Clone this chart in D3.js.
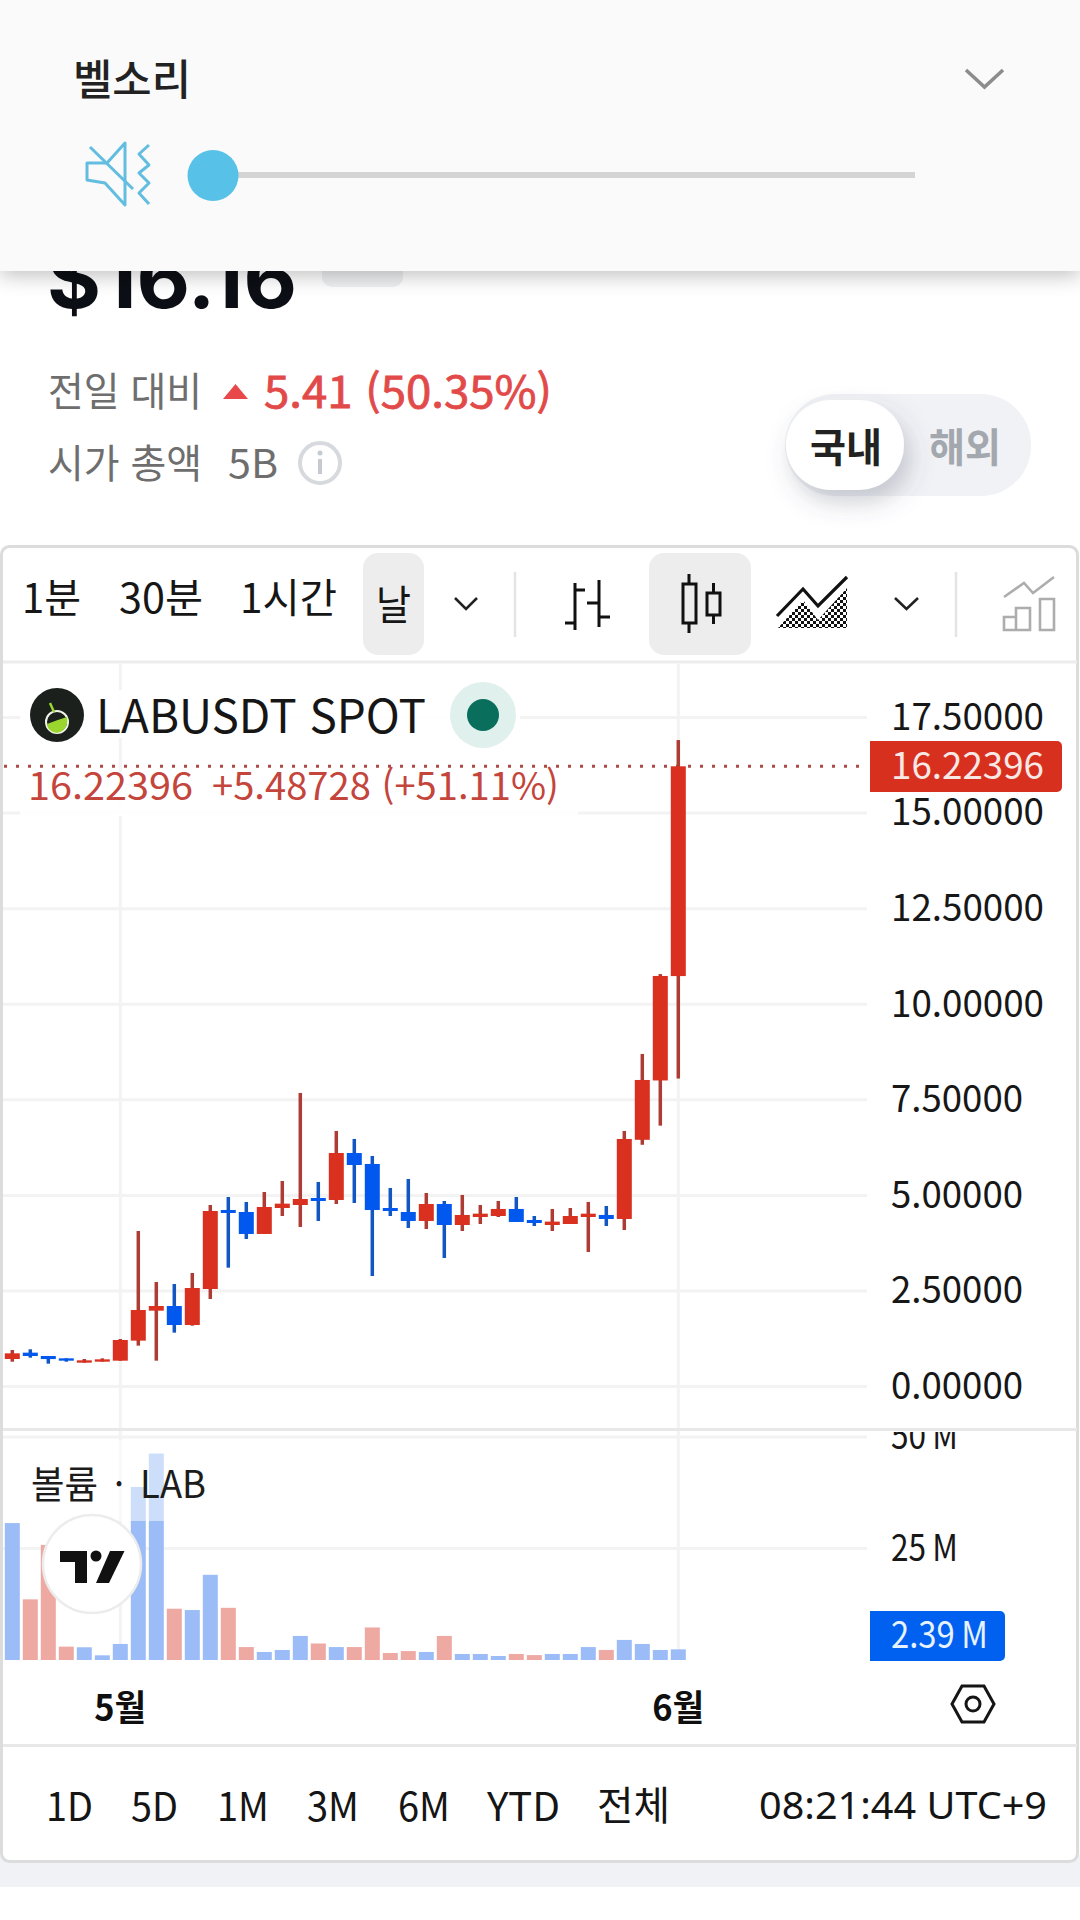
<!DOCTYPE html>
<html lang="ko">
<head>
<meta charset="utf-8">
<style>
  html, body { margin: 0; padding: 0; background: #fff; }
  svg { display: block; }
  text { font-family: "Noto Sans CJK KR", "Noto Sans", sans-serif; }
</style>
<script src="https://cdn.jsdelivr.net/npm/d3@7/dist/d3.min.js"></script>
</head>
<body>
<svg id="chart" width="1080" height="1920" viewBox="0 0 1080 1920"></svg>
<script>
// Daily LABUSDT candles: open, high, low, close
const opens  = [0.722,0.888,0.800,0.739,0.626,0.652,0.678,1.202,1.986,2.108,1.611,2.553,4.619,4.567,3.992,4.671,4.750,4.933,4.881,6.110,5.823,4.671,4.567,4.332,4.776,4.227,4.436,4.462,4.646,4.358,4.227,4.253,4.436,4.489,4.384,6.455,8.007,10.737];
const highs  = [0.957,0.975,0.800,0.739,0.722,0.739,1.245,4.070,2.735,2.684,2.971,4.750,4.959,4.829,5.090,5.378,7.680,5.352,6.686,6.477,6.032,5.195,5.430,5.064,4.855,5.012,4.750,4.855,4.959,4.462,4.646,4.671,4.829,4.724,6.686,8.700,10.790,16.910];
const lows   = [0.652,0.757,0.600,0.652,0.626,0.652,0.678,1.071,0.678,1.411,1.594,2.291,3.111,3.861,3.992,4.462,4.175,4.332,4.776,4.802,2.893,4.462,4.149,4.122,3.364,4.070,4.253,4.436,4.306,4.201,4.070,4.253,3.521,4.201,4.096,6.325,6.825,8.057];
const closes = [0.870,0.800,0.720,0.678,0.687,0.713,1.219,2.004,2.108,1.611,2.579,4.593,4.541,3.992,4.698,4.785,4.907,4.855,6.110,5.796,4.619,4.593,4.332,4.776,4.227,4.489,4.523,4.646,4.306,4.279,4.315,4.462,4.523,4.384,6.477,8.020,10.740,16.22396];

// Traded volume per day, millions of LAB, with the colour side of each bar
const volumes = [30.7,13.6,25.8,3.0,2.85,1.05,3.6,38.8,46.3,11.5,11.2,19.1,11.7,2.9,1.8,2.25,5.4,3.7,2.9,2.9,7.3,1.57,2.0,1.8,5.4,1.35,1.35,0.9,1.35,1.1,1.35,1.35,2.9,2.25,4.5,3.6,2.25,2.39];
const volumeSides = ["d","u","u","u","d","d","d","d","d","u","d","d","u","u","d","d","d","u","d","u","u","u","u","d","u","d","d","d","u","u","d","d","d","u","d","d","d","d"];

const priceTicks = [0,2.5,5,7.5,10,12.5,15,17.5];
const volumeTicks = [25,50];
const monthLabels = [{ index: 6, label: "5월" }, { index: 37, label: "6월" }];
const intervalLabels = ["1분","30분","1시간","날"];
const rangeLabels = ["1D","5D","1M","3M","6M","YTD","전체"];

const lastPrice = 16.22396;
const lastChange = 5.48728;
const lastVolume = 2.39;

const C = {
  up: "#d9301f", upWick: "#ad3c34", down: "#0058ee", downWick: "#1256c0",
  volUp: "#eea9a3", volDown: "#9bbcf6", grid: "#f3f3f3", rule: "#e6e6e6", ink: "#151515"
};

const svg = d3.select("#chart");
const defs = svg.append("defs");

// Places a label so that it spans exactly from x0 to x1
function label(parent, str, x0, x1, baseline, size, fill, weight) {
  return parent.append("text")
    .attr("x", x0).attr("y", baseline)
    .attr("font-size", size).attr("fill", fill || C.ink)
    .attr("font-weight", weight || 400)
    .attr("textLength", x1 - x0).attr("lengthAdjust", "spacingAndGlyphs")
    .text(str);
}
function chevron(parent, x0, x1, y0, y1, stroke, w) {
  parent.append("path")
    .attr("d", `M${x0},${y0}L${(x0 + x1) / 2},${y1}L${x1},${y0}`)
    .attr("fill", "none").attr("stroke", stroke).attr("stroke-width", w);
}

defs.append("filter").attr("id", "panelShadow").attr("x", "-5%").attr("y", "-10%").attr("width", "110%").attr("height", "130%")
  .append("feDropShadow").attr("dx", 0).attr("dy", 5).attr("stdDeviation", 10).attr("flood-color", "#000").attr("flood-opacity", 0.24);
defs.append("filter").attr("id", "thumbShadow").attr("x", "-40%").attr("y", "-40%").attr("width", "180%").attr("height", "190%")
  .append("feDropShadow").attr("dx", 6).attr("dy", 12).attr("stdDeviation", 12).attr("flood-color", "#4a5568").attr("flood-opacity", 0.28);
const hatch = defs.append("pattern").attr("id", "hatch").attr("width", 6).attr("height", 6).attr("patternUnits", "userSpaceOnUse");
hatch.append("rect").attr("width", 3).attr("height", 3).attr("fill", "#111");
hatch.append("rect").attr("x", 3).attr("y", 3).attr("width", 3).attr("height", 3).attr("fill", "#111");
defs.append("clipPath").attr("id", "volumePane").append("rect").attr("x", 0).attr("y", 1432).attr("width", 1080).attr("height", 240);

/* ---------- Quote header ---------- */
const header = svg.append("g");
header.append("rect").attr("x", 322).attr("y", 262).attr("width", 81).attr("height", 25).attr("rx", 10).attr("fill", "#eeeff1");
label(header, "$16.16", 47, 297, 308, 82, "#0b0e14", 700).style("font-family", "Inter");
label(header, "전일 대비", 48, 202, 406, 40, "#6e6e6e");
header.append("path").attr("d", "M223,399L235.5,384L248,399Z").attr("fill", "#e8484a");
label(header, "5.41 (50.35%)", 264, 552, 408, 43, "#e24a4a", 400).attr("stroke", "#e24a4a").attr("stroke-width", 0.8);
label(header, "시가 총액", 48, 202, 478, 40, "#6e6e6e");
label(header, "5B", 228, 278, 478, 40, "#6e6e6e");
header.append("circle").attr("cx", 320).attr("cy", 463).attr("r", 20).attr("fill", "#fff").attr("stroke", "#d6d9dd").attr("stroke-width", 4);
header.append("circle").attr("cx", 320).attr("cy", 453).attr("r", 2.5).attr("fill", "#c6cad0");
header.append("rect").attr("x", 318).attr("y", 459).attr("width", 4).attr("height", 15).attr("fill", "#c6cad0");

header.append("rect").attr("x", 785).attr("y", 394).attr("width", 246).attr("height", 102).attr("rx", 50).attr("fill", "#f1f2f5");
header.append("rect").attr("x", 786).attr("y", 400).attr("width", 118).attr("height", 90).attr("rx", 45).attr("fill", "#fff").attr("filter", "url(#thumbShadow)");
label(header, "국내", 810, 882, 462, 40, "#222", 700);
label(header, "해외", 929, 1001, 462, 40, "#a3a7ae", 700);

/* ---------- Ringtone volume panel, laid over the header ---------- */
const panel = svg.append("g");
panel.append("rect").attr("width", 1080).attr("height", 271).attr("fill", "#fafafa").attr("filter", "url(#panelShadow)");
label(panel, "벨소리", 73, 191, 95, 42, "#222", 500);
chevron(panel, 966, 1003, 70, 87, "#8c8c8c", 3.5);
const speaker = panel.append("g").attr("fill", "none").attr("stroke", "#62bde0").attr("stroke-width", 3).attr("stroke-linejoin", "round");
speaker.append("path").attr("d", "M107,163H87V180L105,183L125,205V143Z");
speaker.append("path").attr("d", "M90,147L133,189");
speaker.append("path").attr("d", "M149,145L139,154L149,165L139,173L149,183L139,193L149,204");
panel.append("rect").attr("x", 235).attr("y", 172).attr("width", 680).attr("height", 6).attr("fill", "#d4d4d4");
panel.append("circle").attr("cx", 213).attr("cy", 175.5).attr("r", 25.5).attr("fill", "#57c1e8");

/* ---------- Chart card ---------- */
svg.append("rect").attr("x", 0).attr("y", 1855).attr("width", 1080).attr("height", 32).attr("fill", "#f0f2f5");
svg.append("rect").attr("x", 1.5).attr("y", 546.5).attr("width", 1076).attr("height", 1315).attr("rx", 8)
  .attr("fill", "#fff").attr("stroke", "#dcdcdc").attr("stroke-width", 3);

/* ---------- Toolbar ---------- */
const bar = svg.append("g");
bar.append("rect").attr("x", 363).attr("y", 553).attr("width", 61).attr("height", 102).attr("rx", 15).attr("fill", "#ededed");
bar.append("rect").attr("x", 649).attr("y", 553).attr("width", 102).attr("height", 102).attr("rx", 15).attr("fill", "#ededed");
const intervalSpans = [[22, 81, 613], [119, 203, 613], [240, 337, 613], [376, 411, 620]];
intervalLabels.forEach((t, i) => {
  const s = intervalSpans[i];
  label(bar, t, s[0], s[1], s[2], 41, "#161616");
});
chevron(bar, 455, 477, 598, 609, "#222", 2.6);
chevron(bar, 895, 918, 598, 609, "#222", 2.6);
bar.append("path").attr("d", "M515,572V637M956,572V637").attr("stroke", "#e4e4e4").attr("stroke-width", 2.5);
bar.append("path").attr("fill", "none").attr("stroke", "#111").attr("stroke-width", 3)
  .attr("d", "M575,583V630M565,623H575M575,590H585M599,580V627M587,603H599M599,617H610");
const candleIcon = bar.append("g").attr("fill", "none").attr("stroke", "#111").attr("stroke-width", 3);
candleIcon.append("path").attr("d", "M689,574V584M689,623V633M713.5,583V593M713.5,615V624");
candleIcon.append("rect").attr("x", 683).attr("y", 584).attr("width", 13).attr("height", 39);
candleIcon.append("rect").attr("x", 707).attr("y", 593).attr("width", 13).attr("height", 22);
bar.append("path").attr("d", "M778,628L803,600L818,620L847,588V628Z").attr("fill", "url(#hatch)");
bar.append("path").attr("d", "M777,616L803,589L818,606L847,577").attr("fill", "none").attr("stroke", "#111").attr("stroke-width", 3.2);
const compare = bar.append("g").attr("fill", "none").attr("stroke", "#adadad").attr("stroke-width", 2.6);
compare.append("path").attr("d", "M1004,597L1024,583L1033,593L1054,577");
compare.append("path").attr("d", "M1004,630V617H1016V630ZM1016,630V608H1030V630ZM1040,630V599H1054V630Z");
svg.append("rect").attr("x", 3).attr("y", 660.5).attr("width", 1074).attr("height", 3).attr("fill", "#ececec");

/* ---------- Scales ---------- */
const xScale = d3.scaleLinear().domain([0, closes.length - 1]).range([12.3, 678.3]);
const yPrice = d3.scaleLinear().domain([0, 17.5]).range([1386.6, 717.5]);
const yVolume = d3.scaleLinear().domain([0, 50]).range([1660, 1437]);
const BODY = 15, WICK = 3.5;

/* ---------- Grid ---------- */
const grid = svg.append("g").attr("stroke", C.grid).attr("stroke-width", 3);
grid.selectAll(".h").data(priceTicks).join("line").attr("class", "h")
  .attr("x1", 3).attr("x2", 867).attr("y1", d => yPrice(d)).attr("y2", d => yPrice(d));
grid.selectAll(".v").data(monthLabels).join("line").attr("class", "v")
  .attr("x1", d => xScale(d.index)).attr("x2", d => xScale(d.index)).attr("y1", 664).attr("y2", 1660);
grid.selectAll(".hv").data(volumeTicks).join("line").attr("class", "hv")
  .attr("x1", 3).attr("x2", 867).attr("y1", d => yVolume(d)).attr("y2", d => yVolume(d));

/* ---------- Last price line, under the candles ---------- */
svg.append("line").attr("x1", 4).attr("x2", 862).attr("y1", yPrice(lastPrice)).attr("y2", yPrice(lastPrice))
  .attr("stroke", "#a94a45").attr("stroke-width", 3).attr("stroke-dasharray", "3 9");

/* ---------- Candles ---------- */
const idx = d3.range(closes.length);
const candles = svg.append("g");
candles.selectAll(".wick").data(idx).join("rect").attr("class", "wick")
  .attr("x", i => xScale(i) - WICK / 2).attr("width", WICK)
  .attr("y", i => yPrice(highs[i])).attr("height", i => yPrice(lows[i]) - yPrice(highs[i]))
  .attr("fill", i => closes[i] >= opens[i] ? C.upWick : C.downWick);
candles.selectAll(".body").data(idx).join("rect").attr("class", "body")
  .attr("x", i => xScale(i) - BODY / 2).attr("width", BODY)
  .attr("y", i => yPrice(Math.max(opens[i], closes[i])))
  .attr("height", i => Math.abs(yPrice(opens[i]) - yPrice(closes[i])))
  .attr("fill", i => closes[i] >= opens[i] ? C.up : C.down);

/* ---------- Volume bars ---------- */
const vol = svg.append("g");
vol.selectAll("rect").data(volumes).join("rect")
  .attr("x", (d, i) => xScale(i) - BODY / 2).attr("width", BODY)
  .attr("y", d => yVolume(d)).attr("height", d => yVolume(0) - yVolume(d))
  .attr("fill", (d, i) => volumeSides[i] === "u" ? C.volUp : C.volDown);

/* ---------- Pane divider ---------- */
svg.append("rect").attr("x", 3).attr("y", 1428).attr("width", 1074).attr("height", 3).attr("fill", "#e8e8e8");

/* ---------- Legends ---------- */
const legend = svg.append("g");
legend.append("rect").attr("x", 20).attr("y", 690).attr("width", 500).attr("height", 48).attr("fill", "#fff").attr("opacity", 0.9);
legend.append("rect").attr("x", 20).attr("y", 772).attr("width", 558).attr("height", 44).attr("fill", "#fff").attr("opacity", 0.85);
legend.append("circle").attr("cx", 57).attr("cy", 715).attr("r", 27).attr("fill", "#1b201d");
legend.append("circle").attr("cx", 57).attr("cy", 722).attr("r", 11).attr("fill", "none").attr("stroke", "#f1f4e8").attr("stroke-width", 2);
legend.append("path").attr("d", "M47,724Q57,720 67,717Q69,730 57,733Q48,732 47,724Z").attr("fill", "#9bd62f");
legend.append("path").attr("d", "M50,703L54,712").attr("stroke", "#9bd62f").attr("stroke-width", 2.5);
label(legend, "LABUSDT SPOT", 96, 426, 733, 46, "#161616");
legend.append("circle").attr("cx", 483).attr("cy", 715).attr("r", 33).attr("fill", "#dff0ed");
legend.append("circle").attr("cx", 483).attr("cy", 715).attr("r", 16).attr("fill", "#0a6e5c");
label(legend, lastPrice.toFixed(5), 28, 193, 800, 38, "#c4453c");
label(legend, `+${lastChange.toFixed(5)} (+51.11%)`, 212, 559, 800, 38, "#c4453c");

legend.append("rect").attr("x", 25).attr("y", 1440).attr("width", 190).attr("height", 81).attr("fill", "#fff").attr("opacity", 0.5);
label(legend, "볼륨", 31, 98, 1498, 38, "#1c1c1c");
label(legend, "·", 114, 124, 1498, 38, "#1c1c1c");
label(legend, "LAB", 140, 206, 1498, 38, "#1c1c1c");
legend.append("circle").attr("cx", 92).attr("cy", 1564).attr("r", 49).attr("fill", "#fff").attr("stroke", "#ececec").attr("stroke-width", 2.5);
legend.append("path").attr("d", "M60,1551H87V1583H75V1562H60Z").attr("fill", "#111");
legend.append("circle").attr("cx", 96).attr("cy", 1556).attr("r", 5.5).attr("fill", "#111");
legend.append("path").attr("d", "M110,1551H124.5L109,1583H96Z").attr("fill", "#111");

/* ---------- Right-hand axes ---------- */
const priceAxis = svg.append("g").attr("transform", "translate(891,0)")
  .call(d3.axisRight(yPrice).tickValues(priceTicks).tickSize(0).tickPadding(0).tickFormat(d3.format(".5f")));
priceAxis.select(".domain").remove();
priceAxis.selectAll("text").attr("font-size", 37).attr("fill", "#171717")
  .attr("font-family", '"Noto Sans CJK KR"')
  .attr("textLength", d => d >= 10 ? 153 : 132).attr("lengthAdjust", "spacingAndGlyphs");

const volumeAxis = svg.append("g").attr("transform", "translate(891,0)").attr("clip-path", "url(#volumePane)")
  .call(d3.axisRight(yVolume).tickValues(volumeTicks).tickSize(0).tickPadding(0).tickFormat(d => `${d}\u2009M`));
volumeAxis.select(".domain").remove();
volumeAxis.selectAll("text").attr("font-size", 37).attr("fill", "#171717")
  .attr("font-family", '"Noto Sans CJK KR"').attr("textLength", 67).attr("lengthAdjust", "spacingAndGlyphs");

const tag = svg.append("g");
tag.append("path").attr("d", "M870,741H1057a5,5 0 0 1 5,5V787a5,5 0 0 1 -5,5H870Z").attr("fill", "#d8301f");
label(tag, lastPrice.toFixed(5), 891, 1044, yPrice(lastPrice) + 13, 37, "#f7e8e6");
tag.append("path").attr("d", "M870,1611H1000a5,5 0 0 1 5,5V1656a5,5 0 0 1 -5,5H870Z").attr("fill", "#0060f0");
label(tag, `${lastVolume}\u2009M`, 891, 988, 1648, 37, "#e6f2ff");

/* ---------- Time axis ---------- */
const monthSpan = 52;
svg.append("g").selectAll("text").data(monthLabels).join("text")
  .attr("x", d => xScale(d.index) - monthSpan / 2).attr("y", 1721)
  .attr("font-size", 36).attr("font-weight", 700).attr("fill", "#0f0f0f")
  .attr("textLength", monthSpan).attr("lengthAdjust", "spacingAndGlyphs").text(d => d.label);

const gear = svg.append("g").attr("fill", "none").attr("stroke", "#151515").attr("stroke-width", 3);
gear.append("path").attr("d", "M952,1704L962,1686H984L994,1704L984,1722H962Z");
gear.append("circle").attr("cx", 973).attr("cy", 1704).attr("r", 7);

/* ---------- Range selector ---------- */
svg.append("rect").attr("x", 3).attr("y", 1744).attr("width", 1074).attr("height", 3).attr("fill", "#e8e8e8");
const rangeSpans = [[46, 93], [131, 178], [217, 269], [307, 359], [398, 450], [487, 560], [597, 670]];
rangeLabels.forEach((t, i) => {
  const s = rangeSpans[i];
  label(svg, t, s[0], s[1], t === "전체" ? 1820 : 1821, 40, "#151515");
});
label(svg, "08:21:44 UTC+9", 759, 1047, 1819, 39, "#151515").style("font-family", '"Noto Sans"');
</script>
</body>
</html>
